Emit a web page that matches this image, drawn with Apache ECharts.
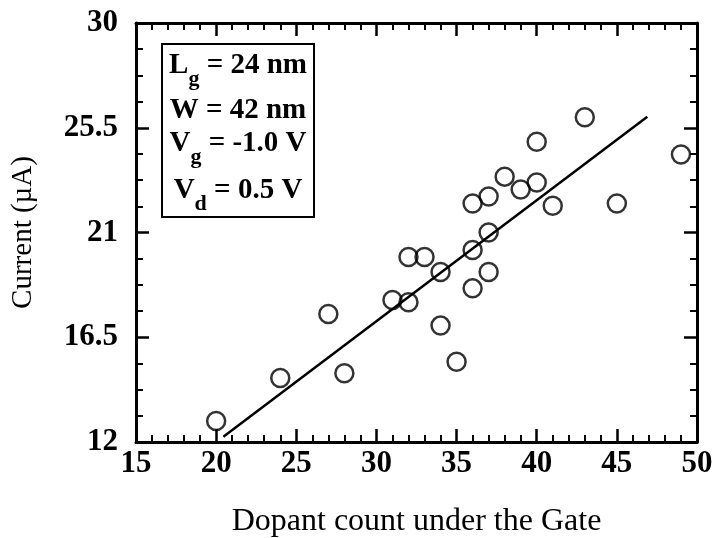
<!doctype html>
<html>
<head>
<meta charset="utf-8">
<title>Current vs dopant count</title>
<style>
  html, body { margin: 0; padding: 0; background: #fff; }
  #chart { width: 715px; height: 538px; }
</style>
</head>
<body>
<div id="chart"></div>
<script src="https://cdn.jsdelivr.net/npm/echarts@6/dist/echarts.min.js"></script>
<script>
// dopant count under the gate (x) and measured current in uA (y)
var dopantCount = [20, 24, 27, 28, 31, 32, 32, 33, 34, 34, 35, 36, 36, 36, 37, 37, 37, 38, 39, 40, 40, 41, 43, 45, 49];
var currentUA   = [12.9, 14.75, 17.5, 14.95, 18.1, 19.95, 18.0, 19.95, 19.3, 17.0, 15.45, 20.25, 22.25, 18.6, 22.55, 21.0, 19.3, 23.4, 22.85, 23.15, 24.9, 22.15, 25.95, 22.25, 24.35];

// end points of the fitted straight line
var fitX = [20.45, 46.9];
var fitY = [12.23, 25.97];

// tick labels of the y axis
var yTicks = [12, 16.5, 21, 25.5, 30];

// inset legend lines (rich text: m = main, s = subscript)
var insetLines = [
    '{m|L}{s|g}{m| = 24 nm}',
    '{m|W = 42 nm}',
    '{m|V}{s|g}{m| = -1.0 V}',
    '{m|V}{s|d}{m| = 0.5 V}'
];
var insetTop = [51, 96, 129, 176];

var serif = 'Liberation Serif';
var points = dopantCount.map(function (x, i) { return [x, currentUA[i]]; });
var fitLine = fitX.map(function (x, i) { return [x, fitY[i]]; });

var axisLine = { show: true, lineStyle: { color: '#000', width: 3 } };
var axisTick = { show: true, inside: true, length: 13, lineStyle: { color: '#000', width: 2.5 } };
var minorTick = { show: true, length: 7, lineStyle: { color: '#000', width: 2 } };

var chart = echarts.init(document.getElementById('chart'));
var option = {
    animation: false,
    backgroundColor: '#fff',
    grid: { left: 136, right: 18, top: 23, bottom: 96, containLabel: false, outerBoundsMode: 'none' },
    xAxis: [
        {
            type: 'value', min: 15, max: 50, interval: 5,
            position: 'bottom',
            name: 'Dopant count under the Gate',
            nameLocation: 'middle', nameGap: 64,
            nameTextStyle: { fontFamily: serif, fontSize: 32, color: '#000' },
            axisLine: axisLine, axisTick: axisTick,
            minorTick: Object.assign({ splitNumber: 5 }, minorTick),
            splitLine: { show: false },
            axisLabel: { fontFamily: serif, fontWeight: 'bold', fontSize: 31, color: '#000', margin: 6 }
        },
        {
            type: 'value', min: 15, max: 50, interval: 5,
            position: 'top',
            axisLine: axisLine, axisTick: axisTick,
            minorTick: Object.assign({ splitNumber: 5 }, minorTick),
            splitLine: { show: false },
            axisLabel: { show: false }
        }
    ],
    yAxis: [
        {
            type: 'value', min: 12, max: 30, interval: 4.5,
            position: 'left',
            name: 'Current (\u00b5A)',
            nameLocation: 'middle', nameGap: 98,
            nameTextStyle: { fontFamily: serif, fontSize: 29, color: '#000' },
            axisLine: axisLine, axisTick: axisTick,
            minorTick: Object.assign({ splitNumber: 4 }, minorTick),
            splitLine: { show: false },
            axisLabel: {
                fontFamily: serif, fontWeight: 'bold', fontSize: 31, color: '#000', margin: 18,
                formatter: function (v) {
                    for (var i = 0; i < yTicks.length; i++) {
                        if (Math.abs(yTicks[i] - v) < 1e-6) return String(yTicks[i]);
                    }
                    return '';
                }
            }
        },
        {
            type: 'value', min: 12, max: 30, interval: 4.5,
            position: 'right',
            axisLine: axisLine, axisTick: axisTick,
            minorTick: Object.assign({ splitNumber: 4 }, minorTick),
            splitLine: { show: false },
            axisLabel: { show: false }
        }
    ],
    series: [
        {
            type: 'line',
            xAxisIndex: 0, yAxisIndex: 0,
            data: fitLine,
            showSymbol: false,
            lineStyle: { color: '#000', width: 2.5 },
            z: 2
        },
        {
            type: 'scatter',
            xAxisIndex: 0, yAxisIndex: 0,
            data: points,
            symbol: 'circle',
            symbolSize: 18,
            itemStyle: { color: 'rgba(255,255,255,0)', borderColor: '#000', borderWidth: 2.5 },
            z: 3
        }
    ],
    graphic: [
        {
            type: 'rect',
            shape: { x: 162, y: 44, width: 152, height: 173 },
            style: { fill: '#fff', stroke: '#000', lineWidth: 2 },
            z: 10
        }
    ].concat(insetLines.map(function (t, i) {
        return {
            type: 'text',
            x: 238, y: insetTop[i],
            z: 11,
            style: {
                text: t,
                align: 'center',
                verticalAlign: 'top',
                rich: {
                    m: { fontFamily: serif, fontWeight: 'bold', fontSize: 29, lineHeight: 29, verticalAlign: 'top', fill: '#000' },
                    s: { fontFamily: serif, fontWeight: 'bold', fontSize: 22, lineHeight: 22, padding: [17, 0, 0, 0], verticalAlign: 'top', fill: '#000' }
                }
            }
        };
    }))
};
chart.setOption(option);
</script>
</body>
</html>
